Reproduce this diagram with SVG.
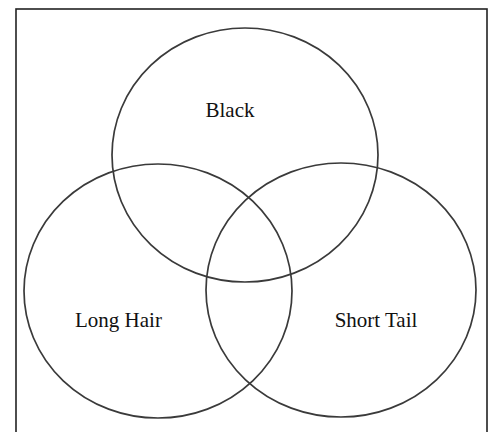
<svg xmlns="http://www.w3.org/2000/svg" width="490" height="432" viewBox="0 0 490 432">
<style>
.c{fill:none;stroke:#3a3a3a;stroke-width:1.7}
.t{font-family:"Liberation Serif","Times New Roman",serif;font-size:21px;fill:#111;text-anchor:middle}
</style>
<rect width="490" height="432" fill="#fff"/>
<rect x="16" y="9" width="471" height="440" fill="none" stroke="#222" stroke-width="1.6"/>
<g id="black"><ellipse class="c" cx="245" cy="155" rx="133" ry="127"/><text class="t" x="230" y="117">Black</text></g>
<g id="longhair"><ellipse class="c" cx="158" cy="291" rx="134" ry="127"/><text class="t" x="118.5" y="327">Long Hair</text></g>
<g id="shorttail"><ellipse class="c" cx="341" cy="290" rx="135" ry="127"/><text class="t" x="376" y="327">Short Tail</text></g>
</svg>
